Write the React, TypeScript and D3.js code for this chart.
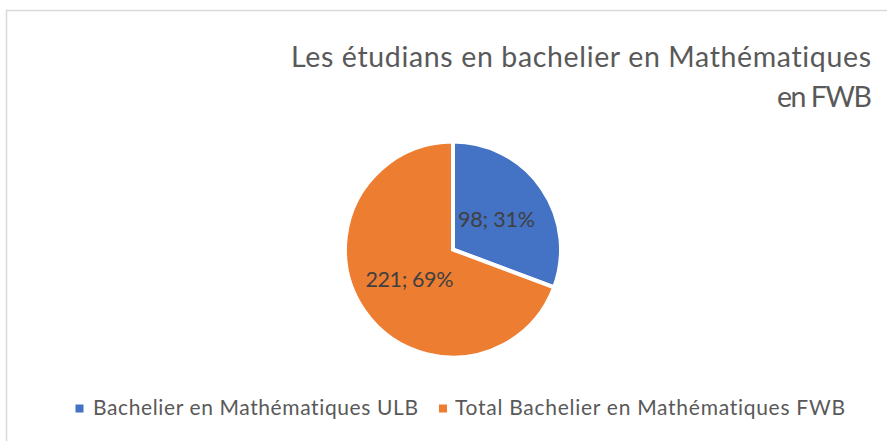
import React from "react";
import * as d3 from "d3";

const categories = ["Bachelier en Mathématiques ULB", "Total Bachelier en Mathématiques FWB"];
const values = [98, 221];
const colors = ["#4472C4", "#ED7D31"];
const titleLines = ["Les étudians en bachelier en Mathématiques", "en FWB"];

const W = 887;
const H = 441;
const FONT = "Lato, 'Open Sans', sans-serif";
const TEXT = "#595959";

export default function App() {
  const cx = 453;
  const cy = 249.5;
  const R = 108;
  const total = d3.sum(values);
  const pie = d3.pie<number>().sort(null).value((d) => d)(values);
  const arc = d3.arc<d3.PieArcDatum<number>>().innerRadius(0).outerRadius(R);
  const labelArc = d3.arc<d3.PieArcDatum<number>>().innerRadius(53).outerRadius(53);
  const labelLens = [77, 88];

  const legendItems = [
    { sx: 75.5, tx: 93, len: 325 },
    { sx: 439, tx: 455, len: 390 },
  ];

  return (
    <svg
      width={W}
      height={H}
      style={{
        position: "absolute",
        left: 0,
        top: 0,
        display: "block",
        background: "#fff",
        fontVariantLigatures: "none",
        fontFeatureSettings: "'liga' 0, 'clig' 0",
      }}
      fontFamily={FONT}
    >
      <rect x={6.5} y={10.5} width={W + 20} height={H + 20} fill="#fff" stroke="#D9D9D9" strokeWidth={1.5} />
      <text x={871} y={67} textAnchor="end" fontSize={28.5} fill={TEXT} textLength={580}>
        {titleLines[0]}
      </text>
      <text x={872} y={107} textAnchor="end" fontSize={28.5} fill={TEXT} textLength={95}>
        {titleLines[1]}
      </text>
      <g transform={`translate(${cx},${cy})`}>
        {pie.map((p, i) => (
          <path key={i} d={arc(p) || ""} fill={colors[i]} stroke="#fff" strokeWidth={4} strokeLinejoin="miter" />
        ))}
        {pie.map((p, i) => {
          const [x, y] = labelArc.centroid(p);
          return (
            <text
              key={i}
              x={x}
              y={y}
              dy="0.36em"
              textAnchor="middle"
              fontSize={21.5}
              fill="#404040"
              textLength={labelLens[i]}
            >
              {`${values[i]}; ${Math.round((values[i] / total) * 100)}%`}
            </text>
          );
        })}
      </g>
      {categories.map((c, i) => (
        <g key={c}>
          <rect x={legendItems[i].sx} y={404.5} width={8} height={8} fill={colors[i]} />
          <text x={legendItems[i].tx} y={415} fontSize={21} fill={TEXT} textLength={legendItems[i].len}>
            {c}
          </text>
        </g>
      ))}
    </svg>
  );
}
